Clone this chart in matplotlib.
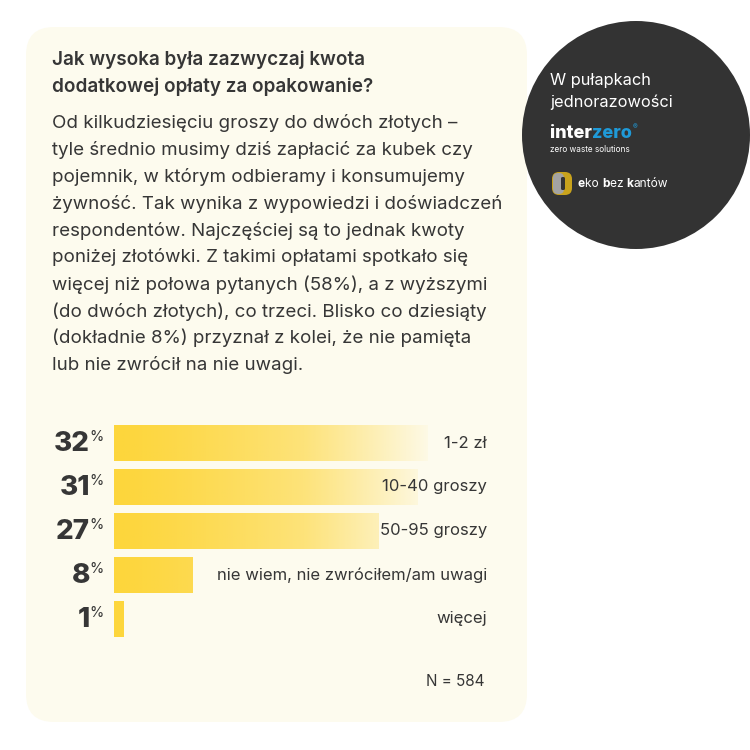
import numpy as np
import matplotlib
matplotlib.use('Agg')
import matplotlib.pyplot as plt
from matplotlib.patches import FancyBboxPatch, Circle
from matplotlib.colors import LinearSegmentedColormap

plt.rcParams['font.family'] = ['Inter', 'DejaVu Sans']

# dane
kategorie = ['1-2 zł', '10-40 groszy', '50-95 groszy', 'nie wiem, nie zwróciłem/am uwagi', 'więcej']
wartosci = [32, 31, 27, 8, 1]
etykiety = ['32', '31', '27', '8', '1']

tytul = ['Jak wysoka była zazwyczaj kwota', 'dodatkowej opłaty za opakowanie?']
opis = ['Od kilkudziesięciu groszy do dwóch złotych –',
        'tyle średnio musimy dziś zapłacić za kubek czy',
        'pojemnik, w którym odbieramy i konsumujemy',
        'żywność. Tak wynika z wypowiedzi i doświadczeń',
        'respondentów. Najczęściej są to jednak kwoty',
        'poniżej złotówki. Z takimi opłatami spotkało się',
        'więcej niż połowa pytanych (58%), a z wyższymi',
        '(do dwóch złotych), co trzeci. Blisko co dziesiąty',
        '(dokładnie 8%) przyznał z kolei, że nie pamięta',
        'lub nie zwrócił na nie uwagi.']

KREM = '#fdfbee'
ZOLTY = '#fdd63c'
TEKST = '#363636'
CIEMNY = '#333333'

fig = plt.figure(figsize=(7.5, 7.5), dpi=100)
fig.patch.set_facecolor('white')

# tlo w pikselach
bg = fig.add_axes([0, 0, 1, 1])
bg.set_xlim(0, 750)
bg.set_ylim(750, 0)
bg.axis('off')

karta = FancyBboxPatch((26, 27), 501, 695, boxstyle='round,pad=0,rounding_size=28',
                       fc=KREM, ec='none')
bg.add_patch(karta)
bg.add_patch(Circle((636, 135), 114, fc=CIEMNY, ec='none', zorder=3))

for i, t in enumerate(tytul):
    bg.text(52, 60 + i * 27, t, fontsize=13.6, fontweight='semibold', color=TEKST, va='center')
for i, t in enumerate(opis):
    bg.text(52, 123 + i * 26.9, t, fontsize=13.5, color=TEKST, va='center')


def kawalki(x, y, czesci, **kw):
    # tekst z kilku kawalkow o roznym stylu, jeden za drugim
    fig.canvas.draw()
    for s, styl in czesci:
        t = bg.text(x, y, s, va='center', zorder=4, **kw, **styl)
        fig.canvas.draw()
        bb = t.get_window_extent()
        x = bg.transData.inverted().transform((bb.x1, 0))[0]
    return x


# tekst w kole
bg.text(550, 81, 'W pułapkach', fontsize=11.8, color='white', va='center', zorder=4)
bg.text(550, 102, 'jednorazowości', fontsize=11.8, color='white', va='center', zorder=4)
xe = kawalki(550, 133, [('inter', dict(color='white')), ('zero', dict(color='#1f9ad8'))],
             fontsize=13, fontweight='heavy')
bg.text(xe + 1, 127, '®', fontsize=5, color='#1f9ad8', va='center', zorder=4)
bg.text(550, 149, 'zero waste solutions', fontsize=5.9, color='white', va='center', zorder=4)
# znaczek
bg.add_patch(FancyBboxPatch((552, 172), 20, 23, boxstyle='round,pad=0,rounding_size=7',
                            fc='#c9a31c', ec='none', zorder=4))
bg.add_patch(FancyBboxPatch((553, 173), 11, 21, boxstyle='round,pad=0,rounding_size=5',
                            fc='#a3a3a3', ec='none', zorder=4))
bg.add_patch(FancyBboxPatch((561, 177), 4, 13, boxstyle='round,pad=0,rounding_size=1.5',
                            fc=CIEMNY, ec='none', zorder=5))
kawalki(578, 184, [('e', dict(fontweight='bold')), ('ko ', {}), ('b', dict(fontweight='bold')),
                   ('ez ', {}), ('k', dict(fontweight='bold')), ('antów', {})],
        fontsize=8.6, color='white')

bg.text(485, 681, 'N = 584', fontsize=11, color=TEKST, ha='right', va='center')

# wykres slupkowy
L, R, T, B = 114, 506, 421, 641
ax = fig.add_axes([L / 750, 1 - B / 750, (R - L) / 750, (B - T) / 750])
ax.set_xlim(0, 40)
ax.set_ylim(len(wartosci) - 0.5, -0.5)
ax.axis('off')

cmap = LinearSegmentedColormap.from_list('g', [ZOLTY, '#fde37a', KREM])
grad = np.linspace(0, 1, 256) ** 1.3
grad = grad.reshape(1, -1)
bars = ax.barh(range(len(wartosci)), wartosci, height=0.82, color='none', edgecolor='none')
for b in bars:
    im = ax.imshow(grad, cmap=cmap, aspect='auto', extent=(0, 33, b.get_y() + b.get_height(), b.get_y()),
                   interpolation='bilinear', zorder=2)
    im.set_clip_path(b)
ax.set_xlim(0, 40)
ax.set_ylim(len(wartosci) - 0.5, -0.5)

for i, (k, e) in enumerate(zip(kategorie, etykiety)):
    ax.text(373 / 392, i, k, transform=ax.get_yaxis_transform(), fontsize=12, color=TEKST,
            ha='right', va='center', zorder=5)
    ax.text(-24 / 392, i + 0.03, e, transform=ax.get_yaxis_transform(), fontsize=20,
            fontweight='heavy', color=TEKST, ha='right', va='center')
    ax.text(-24.5 / 392, i - 0.13, '%', transform=ax.get_yaxis_transform(), fontsize=10.5,
            color=TEKST, ha='left', va='center')

fig.savefig('out.png', dpi=100, facecolor='white')
